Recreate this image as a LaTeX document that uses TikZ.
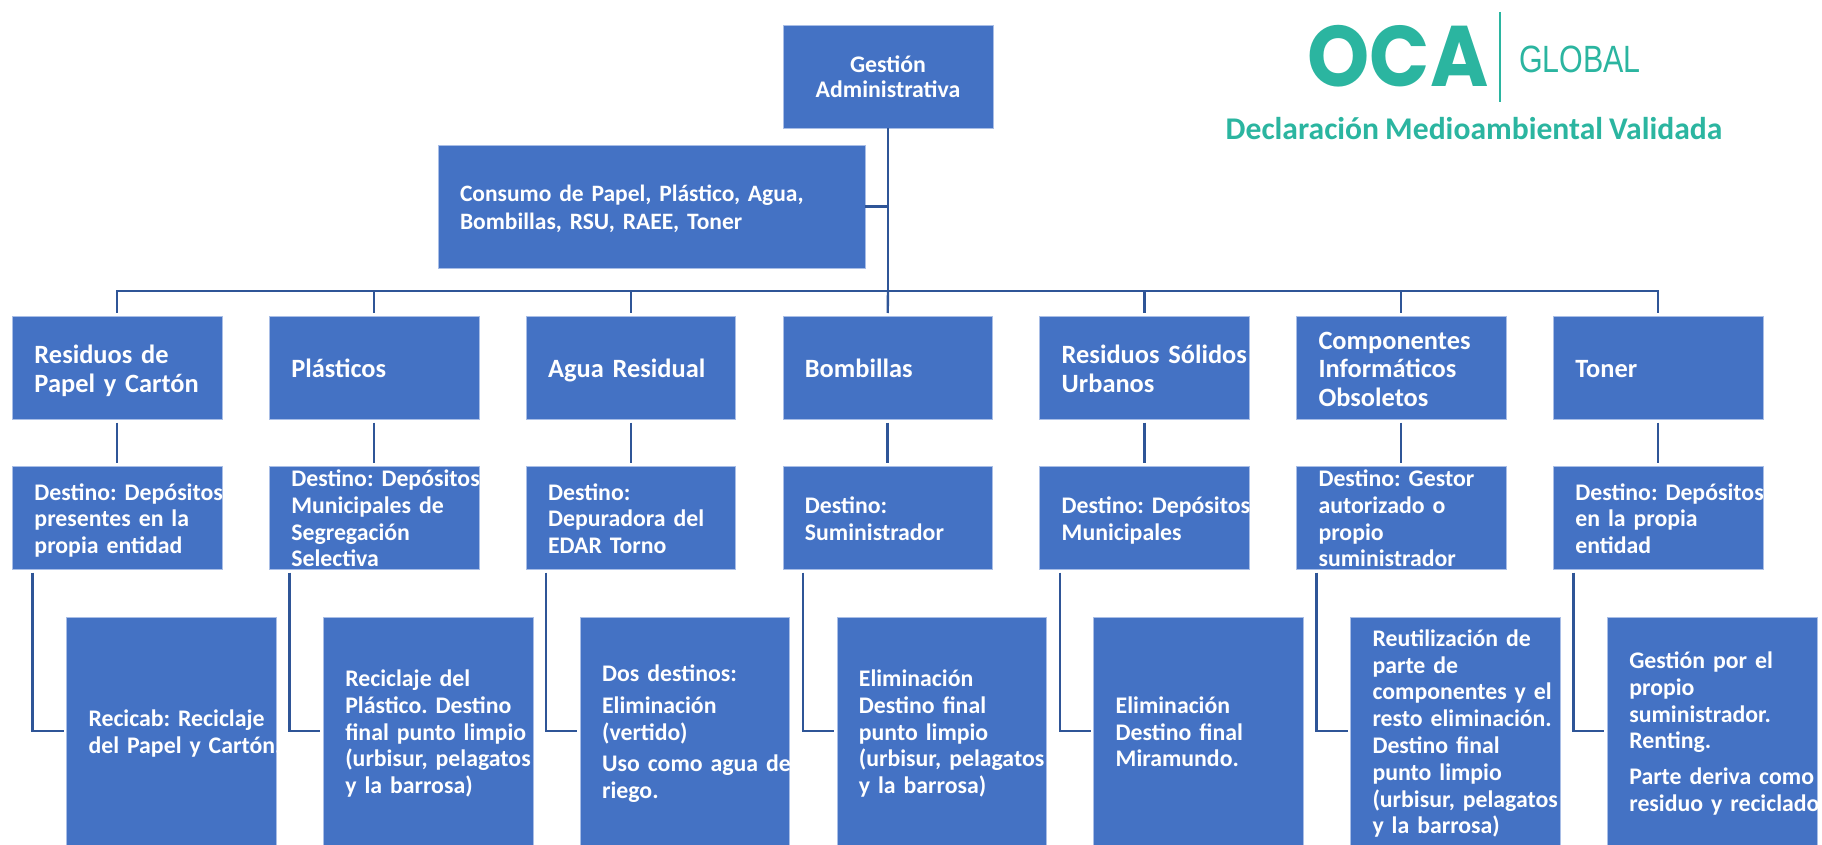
\documentclass[tikz,border=0pt]{standalone}
\usepackage{fontspec}
\setmainfont{Carlito}[WordSpace=.85]
\definecolor{boxblue}{HTML}{4472C4}
\definecolor{boxedge}{HTML}{A9BEE6}
\definecolor{linkblue}{HTML}{2F5597}
\definecolor{logoteal}{HTML}{2BB5A0}
\newcommand{\boxtxt}[1]{\hspace*{22pt}\raisebox{\dimexpr-.25em-4pt\relax}[0pt][0pt]{\begin{tabular}{@{}l@{}}#1\end{tabular}}}
\frenchspacing
\tikzset{
	block/.style={draw=boxedge,line width=.6pt,fill=boxblue,text=white,anchor=north west,inner sep=0pt,outer sep=0pt,align=left,text width=209.5pt},
	areabox/.style={block,minimum height=103.5pt,font=\fontsize{26.4}{28.7}\selectfont\bfseries},
	destbox/.style={block,minimum height=103.5pt,font=\fontsize{23.8}{26.6}\selectfont\bfseries},
	endbox/.style={block,minimum height=228pt,font=\fontsize{23.8}{26.8}\selectfont\bfseries},
	link/.style={draw=linkblue,line width=2.4pt},
	gapped/.style={link,shorten <=3pt,shorten >=3pt}
}
\begin{document}
\begin{tikzpicture}[x=1pt,y=-1pt]
	\useasboundingbox (0,0) rectangle (1822,845);
	\node[block,text width=210pt,minimum height=102.5pt,align=center,font=\fontsize{23.8}{25.6}\selectfont\bfseries] (gestion) at (783,25.5) {Gestión\\Administrativa};
	\node[block,text width=427pt,minimum height=123pt,font=\fontsize{23.5}{27.5}\selectfont\bfseries] (consumo) at (438,145) {\boxtxt{Consumo de Papel, Plástico, Agua,\\Bombillas, RSU, RAEE, Toner}};
	% first row
	\node[areabox] (papel) at (12.5,316) {\boxtxt{Residuos de\\Papel y Cartón}};
	\node[areabox] (plastico) at (269.3,316) {\boxtxt{Plásticos}};
	\node[areabox] (agua) at (526.1,316) {\boxtxt{Agua Residual}};
	\node[areabox] (bombilla) at (782.9,316) {\boxtxt{Bombillas}};
	\node[areabox] (rsu) at (1039.7,316) {\boxtxt{Residuos Sólidos\\Urbanos}};
	\node[areabox] (raee) at (1296.5,316) {\boxtxt{Componentes\\Informáticos\\Obsoletos}};
	\node[areabox] (toner) at (1553.3,316) {\boxtxt{Toner}};
	% second row
	\node[destbox] (dpapel) at (12.5,466) {\boxtxt{Destino: Depósitos\\presentes en la\\propia entidad}};
	\node[destbox] (dplastico) at (269.3,466) {\boxtxt{Destino: Depósitos\\Municipales de\\Segregación\\Selectiva}};
	\node[destbox] (dagua) at (526.1,466) {\boxtxt{Destino:\\Depuradora del\\EDAR Torno}};
	\node[destbox] (dbombilla) at (782.9,466) {\boxtxt{Destino:\\Suministrador}};
	\node[destbox] (drsu) at (1039.7,466) {\boxtxt{Destino: Depósitos\\Municipales}};
	\node[destbox] (draee) at (1296.5,466) {\boxtxt{Destino: Gestor\\autorizado o\\propio\\suministrador}};
	\node[destbox] (dtoner) at (1553.3,466) {\boxtxt{Destino: Depósitos\\en la propia\\entidad}};
	% third row
	\node[endbox] (fpapel) at (66.5,617) {\boxtxt{Recicab: Reciclaje\\del Papel y Cartón.}};
	\node[endbox] (fplastico) at (323.3,617) {\boxtxt{Reciclaje del\\Plástico. Destino\\final punto limpio\\(urbisur, pelagatos\\y la barrosa)}};
	\node[endbox] (fagua) at (580.1,617) {\boxtxt{Dos destinos:\\[5pt]Eliminación\\(vertido)\\[5pt]Uso como agua de\\riego.}};
	\node[endbox] (fbombilla) at (836.9,617) {\boxtxt{Eliminación\\Destino final\\punto limpio\\(urbisur, pelagatos\\y la barrosa)}};
	\node[endbox] (frsu) at (1093.7,617) {\boxtxt{Eliminación\\Destino final\\Miramundo.}};
	\node[endbox] (fraee) at (1350.5,617) {\boxtxt{Reutilización de\\parte de\\componentes y el\\resto eliminación.\\Destino final\\punto limpio\\(urbisur, pelagatos\\y la barrosa)}};
	\node[endbox] (ftoner) at (1607.3,617) {\boxtxt{Gestión por el\\propio\\suministrador.\\Renting.\\[9pt]Parte deriva como\\residuo y reciclado}};
	% trunk and bus
	\coordinate (bus) at (888,291);
	\draw[link] (gestion.south) -- (bus);
	\draw[link] (consumo.east) -- (consumo.east -| gestion.south);
	\draw[link,shorten >=3pt] (bus) -| (papel.north);
	\draw[link,shorten >=3pt] (bus) -| (plastico.north);
	\draw[link,shorten >=3pt] (bus) -| (agua.north);
	\draw[link,shorten >=3pt] (bus) -- (bombilla.north);
	\draw[link,shorten >=3pt] (bus) -| (rsu.north);
	\draw[link,shorten >=3pt] (bus) -| (raee.north);
	\draw[link,shorten >=3pt] (bus) -| (toner.north);
	% down to second row
	\draw[gapped] (papel.south) -- (dpapel.north);
	\draw[gapped] (plastico.south) -- (dplastico.north);
	\draw[gapped] (agua.south) -- (dagua.north);
	\draw[gapped] (bombilla.south) -- (dbombilla.north);
	\draw[gapped] (rsu.south) -- (drsu.north);
	\draw[gapped] (raee.south) -- (draee.north);
	\draw[gapped] (toner.south) -- (dtoner.north);
	% elbows to third row
	\draw[gapped] ([xshift=20pt]dpapel.south west) |- (fpapel.west);
	\draw[gapped] ([xshift=20pt]dplastico.south west) |- (fplastico.west);
	\draw[gapped] ([xshift=20pt]dagua.south west) |- (fagua.west);
	\draw[gapped] ([xshift=20pt]dbombilla.south west) |- (fbombilla.west);
	\draw[gapped] ([xshift=20pt]drsu.south west) |- (frsu.west);
	\draw[gapped] ([xshift=20pt]draee.south west) |- (fraee.west);
	\draw[gapped] ([xshift=20pt]dtoner.south west) |- (ftoner.west);
	% logo
	\node[text=logoteal,inner sep=0pt,xscale=.92,font=\fontsize{86}{86}\selectfont\bfseries\fontspec{Poppins}] (oca) at (1398,56) {OCA};
	\coordinate (ruletop) at (1500,12);
	\coordinate (rulebot) at (1500,102);
	\draw[logoteal,line width=2pt] (ruletop) -- (rulebot);
	\node[text=logoteal,inner sep=0pt,xscale=.8,font=\fontsize{38}{38}\selectfont\fontspec{Liberation Sans}] (global) at (1580,59) {GLOBAL};
	\node[text=logoteal,inner sep=0pt,font=\fontsize{31.6}{31.6}\selectfont\bfseries] (declara) at (1474,129) {Declaración Medioambiental Validada};
\end{tikzpicture}
\end{document}
